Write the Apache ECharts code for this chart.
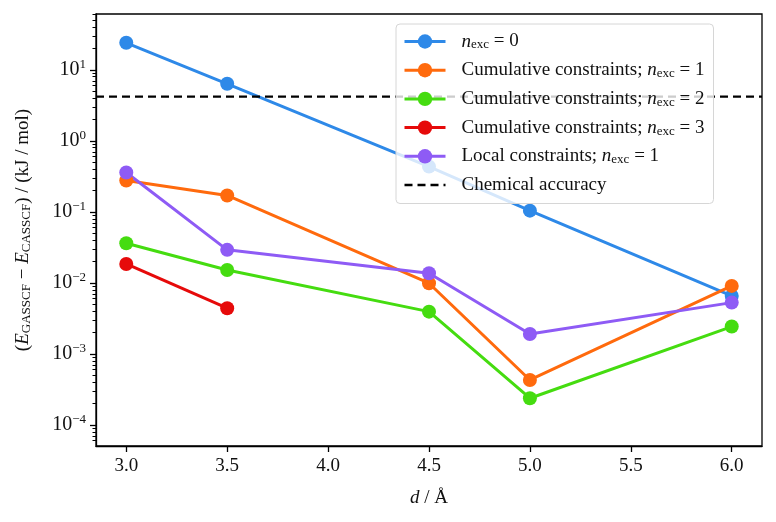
<!DOCTYPE html>
<html>
<head>
<meta charset="utf-8">
<script src="https://cdn.jsdelivr.net/npm/echarts@6/dist/echarts.min.js"></script>
<style>
html,body{margin:0;padding:0;background:#fff;}
#chart{width:776px;height:522px;}
</style>
</head>
<body>
<div id="chart"></div>
<script>
// ---- data ----
var xValues = [3.0, 3.5, 4.5, 5.0, 6.0];
var nExc0 = [24.0, 6.35, 0.434, 0.104, 0.00656];
var cumulative1 = [0.276, 0.170, 0.00989, 0.00043, 0.00908];
var cumulative2 = [0.0362, 0.0152, 0.00394, 0.000238, 0.00243];
var cumulative3X = [3.0, 3.5];
var cumulative3 = [0.0185, 0.0044];
var local1 = [0.358, 0.0292, 0.0137, 0.00191, 0.00528];
var chemicalAccuracy = 4.184;

var xTickValues = [3.0, 3.5, 4.0, 4.5, 5.0, 5.5, 6.0];
var yTickValues = [1e-4, 1e-3, 1e-2, 1e-1, 1, 10];
var yTickExponents = ['−4', '−3', '−2', '−1', '0', '1'];

var seriesNames = ['n0', 'c1', 'c2', 'c3', 'l1', 'chem'];
var legendLabels = {
  n0: '{i|n}{s|exc}{t| = 0}',
  c1: '{t|Cumulative constraints; }{i|n}{s|exc}{t| = 1}',
  c2: '{t|Cumulative constraints; }{i|n}{s|exc}{t| = 2}',
  c3: '{t|Cumulative constraints; }{i|n}{s|exc}{t| = 3}',
  l1: '{t|Local constraints; }{i|n}{s|exc}{t| = 1}',
  chem: '{t|Chemical accuracy}'
};
var colors = ['#2e89e8', '#ff6a0d', '#45dc10', '#e60a0a', '#8e5bf5'];

var X_MIN = 2.85, X_MAX = 6.15, Y_MIN = 5.06e-5, Y_MAX = 61;

function zip(xs, ys) { return xs.map(function (x, i) { return [x, ys[i]]; }); }

var minorTicks = [];
for (var e = -5; e <= 1; e++) {
  for (var m = 2; m <= 9; m++) {
    var v = m * Math.pow(10, e);
    if (v > Y_MIN && v < Y_MAX) minorTicks.push(v);
  }
}

var FONT = 'Liberation Serif';
var richBase = {
  t: { fontFamily: FONT, fontSize: 19, color: '#111', lineHeight: 20 },
  i: { fontFamily: FONT, fontSize: 19, fontStyle: 'italic', color: '#111', lineHeight: 20 },
  s: { fontFamily: FONT, fontSize: 13, color: '#111', lineHeight: 12, verticalAlign: 'bottom' }
};

function lineSeries(name, data, color) {
  return {
    name: name, type: 'line', data: data,
    symbol: 'circle', symbolSize: 14,
    lineStyle: { width: 3, color: color },
    itemStyle: { color: color },
    emphasis: { disabled: true },
    animation: false
  };
}

var legendData = seriesNames.map(function (n) {
  return n === 'chem' ? { name: n, itemStyle: { opacity: 0 }, lineStyle: { width: 2.4 } } : { name: n, lineStyle: { width: 3 } };
});

var chart = echarts.init(document.getElementById('chart'), null, { renderer: 'canvas' });
chart.setOption({
  backgroundColor: '#fff',
  animation: false,
  grid: { left: 96, top: 14, width: 666, height: 432, show: true, borderColor: '#000', borderWidth: 1.3, backgroundColor: 'transparent' },
  xAxis: {
    type: 'value', min: X_MIN, max: X_MAX,
    axisLine: { show: true, lineStyle: { color: '#000', width: 1.3 } },
    axisTick: { show: true, length: 6, lineStyle: { color: '#000', width: 1.3 }, customValues: xTickValues },
    axisLabel: {
      customValues: xTickValues, margin: 11,
      fontFamily: FONT, fontSize: 19, color: '#111',
      formatter: function (v) { return v.toFixed(1); }
    },
    splitLine: { show: false },
    name: '{i|d}{t| / Å}', nameLocation: 'middle', nameGap: 42,
    nameTextStyle: { rich: richBase }
  },
  yAxis: [{
    type: 'log', logBase: 10, min: Y_MIN, max: Y_MAX,
    axisLine: { show: true, lineStyle: { color: '#000', width: 1.3 } },
    axisTick: { show: true, length: 6, lineStyle: { color: '#000', width: 1.3 }, customValues: yTickValues },
    axisLabel: {
      customValues: yTickValues, margin: 10,
      formatter: function (v) {
        var idx = yTickValues.findIndex(function (t) { return Math.abs(Math.log10(t) - Math.log10(v)) < 1e-6; });
        return '{b|10}{e|' + yTickExponents[idx] + '}';
      },
      rich: {
        b: { fontFamily: FONT, fontSize: 20, color: '#111', lineHeight: 24 },
        e: { fontFamily: FONT, fontSize: 13, color: '#111', lineHeight: 13, verticalAlign: 'top' }
      }
    },
    splitLine: { show: false },
    name: '{t|(}{i|E}{s|GASSCF}{t| − }{i|E}{s|CASSCF}{t|) / (kJ / mol)}',
    nameLocation: 'middle', nameRotate: 90, nameGap: 63,
    nameTextStyle: { rich: richBase }
  }, {
    type: 'log', logBase: 10, min: Y_MIN, max: Y_MAX, position: 'left',
    axisLine: { show: false },
    axisTick: { show: true, length: 3.5, lineStyle: { color: '#000', width: 1 }, customValues: minorTicks },
    axisLabel: { show: false },
    splitLine: { show: false }
  }],
  legend: {
    orient: 'vertical', left: 396, top: 24,
    padding: [8, 9, 9, 7],
    itemWidth: 41, itemHeight: 18, itemGap: 9.2,
    backgroundColor: 'rgba(255,255,255,0.8)',
    borderColor: '#d6d6d6', borderWidth: 1, borderRadius: 4,
    data: legendData,
    lineStyle: { width: 3 },
    formatter: function (name) { return legendLabels[name]; },
    textStyle: { padding: [0, 0, 0, 11], rich: richBase },
    selectedMode: false
  },
  series: [
    lineSeries('n0', zip(xValues, nExc0), colors[0]),
    lineSeries('c1', zip(xValues, cumulative1), colors[1]),
    lineSeries('c2', zip(xValues, cumulative2), colors[2]),
    lineSeries('c3', zip(cumulative3X, cumulative3), colors[3]),
    lineSeries('l1', zip(xValues, local1), colors[4]),
    {
      name: 'chem', type: 'line', symbol: 'none',
      data: [[X_MIN, chemicalAccuracy], [X_MAX, chemicalAccuracy]],
      lineStyle: { color: '#000', width: 2.4, type: [8, 5] },
      itemStyle: { color: '#000' },
      emphasis: { disabled: true },
      animation: false
    }
  ]
});
</script>
</body>
</html>
